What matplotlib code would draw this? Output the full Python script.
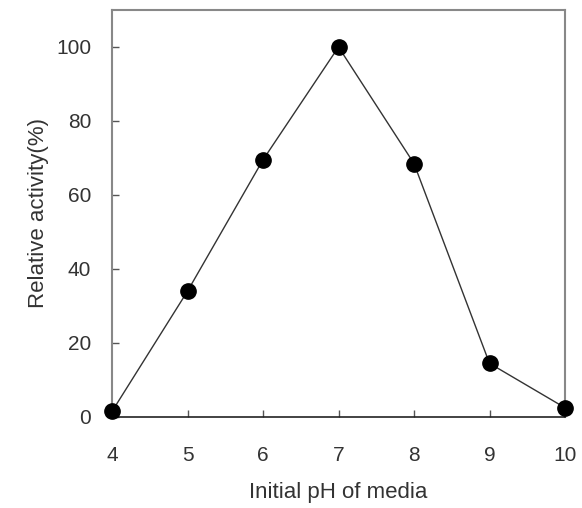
import matplotlib.pyplot as plt

ph = [4, 5, 6, 7, 8, 9, 10]
activity = [1.5, 34, 69.5, 100, 68.5, 14.5, 2.5]
yticks = [0, 20, 40, 60, 80, 100]

plt.rcParams['font.family'] = 'Liberation Sans'
txt = '#333333'

fig = plt.figure(figsize=(5.82, 5.08), dpi=100)
ax = fig.add_axes([112 / 582, 1 - 417 / 508, (565 - 112) / 582, (417 - 10) / 508])

ax.plot(ph, activity, '-', color='#333333', lw=1.0, zorder=2)
ax.plot(ph, activity, 'o', color='black', ms=11, zorder=3, clip_on=False)

ax.set_xlim(4, 10)
ax.set_ylim(0, 110)
ax.set_xticks(ph)
ax.set_yticks(yticks)
ax.tick_params(direction='in', length=5, width=1, colors='#555555',
               labelcolor=txt, labelsize=15, top=False, right=False)
ax.tick_params(axis='x', pad=21)
ax.tick_params(axis='y', pad=15)

for side in ['left', 'top', 'right']:
    ax.spines[side].set_color('#888888')
    ax.spines[side].set_linewidth(1.5)
ax.spines['bottom'].set_color('#222222')
ax.spines['bottom'].set_linewidth(1.2)

ax.set_xlabel('Initial pH of media', fontsize=16, color=txt, labelpad=12)
ax.set_ylabel('Relative activity(%)', fontsize=16, color=txt, labelpad=5)

fig.savefig('out.png', dpi=100)
